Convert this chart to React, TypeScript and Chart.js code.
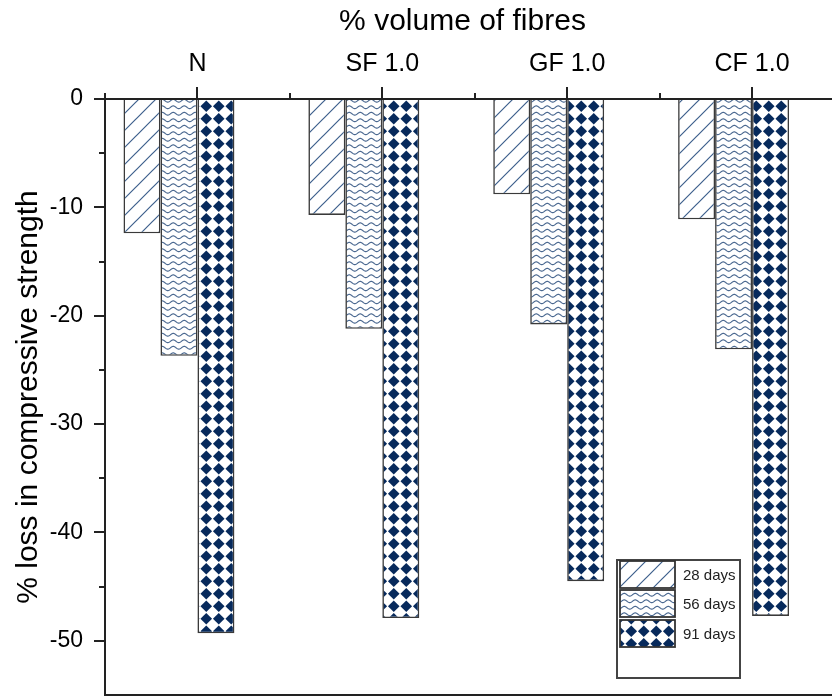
import React, { useEffect, useRef } from "react";
import { Chart, registerables } from "chart.js";

Chart.register(...registerables);

const categories = ["N", "SF 1.0", "GF 1.0", "CF 1.0"];
const seriesNames = ["28 days", "56 days", "91 days", ""];
const days28 = [-12.4, -10.7, -8.8, -11.1];
const days56 = [-23.7, -21.2, -20.8, -23.1];
const days91 = [-49.3, -47.9, -44.5, -47.7];
const emptySeries: number[] = []; // 4th, empty slot in each group (and legend)
const yMajorTicks = [0, -10, -20, -30, -40, -50];
const yMinorTicks = [-5, -15, -25, -35, -45];
const topTitle = "% volume of fibres";
const yTitle = "% loss in compressive strength";

const FONT = "'Liberation Sans', Arial, sans-serif";
const AXIS = "#222";
const NAVY = "#072a5c";

function makeTile(w: number, h: number, draw: (c: CanvasRenderingContext2D) => void) {
  const cv = document.createElement("canvas");
  cv.width = w;
  cv.height = h;
  const c = cv.getContext("2d")!;
  c.fillStyle = "#fff";
  c.fillRect(0, 0, w, h);
  draw(c);
  return c.createPattern(cv, "repeat")!;
}

function makePatterns() {
  const diag = makeTile(17, 17, (c) => {
    c.strokeStyle = "#3d5f8c";
    c.lineWidth = 1.2;
    c.beginPath();
    c.moveTo(-1, 18);
    c.lineTo(18, -1);
    c.moveTo(-1, 1);
    c.lineTo(1, -1);
    c.moveTo(16, 18);
    c.lineTo(18, 16);
    c.stroke();
  });
  const wave = makeTile(11, 13, (c) => {
    c.strokeStyle = "#4a6890";
    c.lineWidth = 1.2;
    [3.25, 9.75].forEach((y0) => {
      c.beginPath();
      for (let x = -1; x <= 12; x += 0.5) {
        const y = y0 + 1.4 * Math.sin((2 * Math.PI * x) / 11);
        if (x === -1) c.moveTo(x, y);
        else c.lineTo(x, y);
      }
      c.stroke();
    });
  });
  const diamonds = makeTile(25, 25, (c) => {
    c.fillStyle = NAVY;
    const r = 5.8;
    [6.25, 18.75].forEach((cx) =>
      [6.25, 18.75].forEach((cy) => {
        c.beginPath();
        c.moveTo(cx, cy - r);
        c.lineTo(cx + r, cy);
        c.lineTo(cx, cy + r);
        c.lineTo(cx - r, cy);
        c.closePath();
        c.fill();
      })
    );
  });
  return [diag, wave, diamonds, "#fff"] as any[];
}

export default function App() {
  const ref = useRef<HTMLCanvasElement>(null);

  useEffect(() => {
    const canvas = ref.current!;
    const patterns = makePatterns();
    const seriesValues = [days28, days56, days91, emptySeries];

    const decor = {
      id: "decor",
      afterDraw(chart: any) {
        const { ctx, chartArea, scales } = chart;
        const y = scales.y;
        const x = scales.x;
        ctx.save();
        ctx.strokeStyle = AXIS;
        ctx.lineWidth = 2;
        // bottom frame line
        ctx.beginPath();
        ctx.moveTo(chartArea.left - 1, chartArea.bottom);
        ctx.lineTo(chartArea.right, chartArea.bottom);
        ctx.stroke();
        // y minor ticks
        ctx.beginPath();
        yMinorTicks.forEach((v) => {
          const py = Math.round(y.getPixelForValue(v));
          ctx.moveTo(chartArea.left - 6, py);
          ctx.lineTo(chartArea.left, py);
        });
        // x minor ticks at category boundaries
        for (let i = 0; i <= categories.length; i++) {
          const px = Math.round(x.getPixelForValue(i - 0.5));
          ctx.moveTo(px, chartArea.top - 6);
          ctx.lineTo(px, chartArea.top);
        }
        ctx.stroke();

        // top title
        ctx.fillStyle = "#000";
        ctx.font = `30px ${FONT}`;
        ctx.textAlign = "center";
        ctx.textBaseline = "middle";
        ctx.fillText(topTitle, 462.5, 22);

        // legend
        const lx = 617, ly = 560, lw = 123, lh = 118;
        ctx.fillStyle = "#fff";
        ctx.fillRect(lx, ly, lw, lh);
        ctx.strokeStyle = "#444";
        ctx.lineWidth = 2;
        ctx.strokeRect(lx, ly, lw, lh);
        const rows = [561, 590, 620];
        seriesNames.forEach((name, i) => {
          if (!name) return;
          ctx.fillStyle = patterns[i];
          ctx.fillRect(lx + 3, rows[i], 55, 27);
          ctx.strokeStyle = "#333";
          ctx.lineWidth = 1.8;
          ctx.strokeRect(lx + 3, rows[i], 55, 27);
          ctx.fillStyle = "#222";
          ctx.font = `15px ${FONT}`;
          ctx.textAlign = "left";
          ctx.textBaseline = "middle";
          ctx.fillText(name, lx + 66, rows[i] + 15);
        });
        ctx.restore();
      },
    };

    const chart = new Chart(canvas, {
      type: "bar",
      data: {
        labels: categories,
        datasets: seriesNames.map((name, i) => ({
          label: name,
          data: seriesValues[i],
          backgroundColor: patterns[i],
          borderColor: "#3a3a3a",
          borderWidth: 1.6,
          categoryPercentage: 0.8,
          barPercentage: 1.0,
        })),
      },
      options: {
        responsive: false,
        devicePixelRatio: 1,
        animation: false,
        layout: { padding: { left: 0, top: 0, right: 880 - 844.5, bottom: 2 } },
        plugins: { legend: { display: false }, tooltip: { enabled: false } },
        scales: {
          x: {
            position: "top",
            offset: true,
            grid: {
              offset: false,
              drawOnChartArea: false,
              drawTicks: true,
              tickLength: 12,
              color: AXIS,
              lineWidth: 2,
            },
            border: { display: true, color: AXIS, width: 2 },
            ticks: {
              font: { family: FONT, size: 25 },
              color: "#000",
              padding: 8,
              maxRotation: 0,
              autoSkip: false,
            },
            afterFit: (s: any) => {
              s.height = 99;
              s.paddingLeft = 0;
              s.paddingRight = 0;
              s.paddingTop = 0;
              s.paddingBottom = 0;
            },
          },
          y: {
            position: "left",
            min: -55,
            max: 0,
            afterBuildTicks: (s: any) => {
              s.ticks = yMajorTicks.map((v) => ({ value: v }));
            },
            grid: {
              drawOnChartArea: false,
              drawTicks: true,
              tickLength: 11,
              color: AXIS,
              lineWidth: 2,
            },
            border: { display: true, color: AXIS, width: 2 },
            ticks: {
              font: { family: FONT, size: 23 },
              color: "#000",
              padding: 11,
            },
            title: {
              display: true,
              text: yTitle,
              font: { family: FONT, size: 30 },
              color: "#000",
              padding: { top: 11, bottom: 0 },
            },
            afterFit: (s: any) => {
              s.width = 105;
              s.paddingLeft = 0;
              s.paddingRight = 0;
              s.paddingTop = 0;
              s.paddingBottom = 0;
            },
          },
        },
      },
      plugins: [decor],
    } as any);

    return () => chart.destroy();
  }, []);

  return (
    <div
      style={{
        position: "fixed",
        left: 0,
        top: 0,
        width: 832,
        height: 697,
        overflow: "hidden",
        background: "#fff",
      }}
    >
      <canvas ref={ref} width={880} height={697} style={{ display: "block" }} />
    </div>
  );
}
